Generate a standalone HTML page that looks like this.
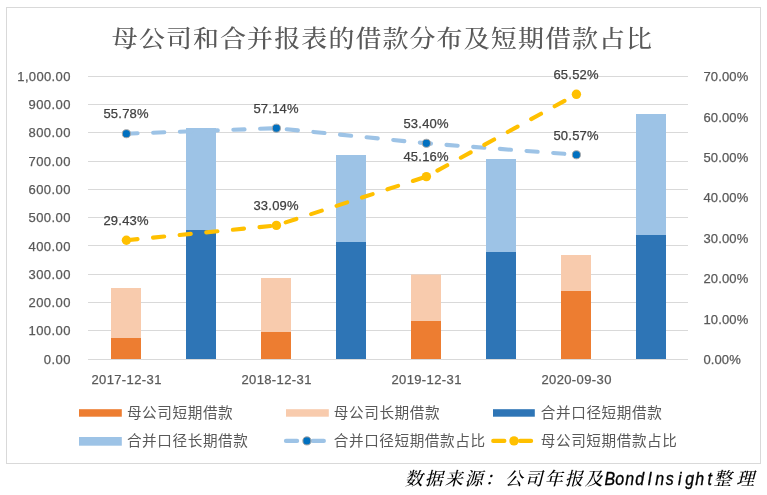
<!DOCTYPE html>
<html lang="zh-CN"><head><meta charset="utf-8"><title>母公司和合并报表的借款分布及短期借款占比</title>
<style>html,body{margin:0;padding:0;background:#fff;}body{width:767px;height:495px;overflow:hidden;}svg{display:block;}.n{font-family:"Liberation Sans",sans-serif;font-size:13px;stroke-width:0.25px;}.c{font-family:"Liberation Sans","Noto Sans CJK SC",sans-serif;font-size:14.6px;}.t{font-family:"Liberation Serif","Noto Serif CJK SC",serif;font-size:26px;font-weight:500;}.s{font-family:"Liberation Serif","Noto Serif CJK SC",serif;font-size:18px;font-style:italic;font-weight:500;}.l{font-family:"Liberation Sans",sans-serif;font-size:19px;font-style:italic;stroke:#000;stroke-width:0.35px;}</style></head><body>
<svg width="767" height="495" viewBox="0 0 767 495">
<rect x="0" y="0" width="767" height="495" fill="#fff"/>
<rect x="6.5" y="7.5" width="754" height="456" fill="#fff" stroke="#D9D9D9" stroke-width="1"/>
<text class="t" transform="scale(1 0.9)" x="111.8 138.9 165.9 193.0 220.1 247.1 274.2 301.3 328.4 355.4 382.5 409.6 436.6 463.7 490.8 517.9 544.9 572.0 599.1 626.1" y="52.00" fill="#595959">母公司和合并报表的借款分布及短期借款占比</text>
<rect x="88" y="76" width="600" height="1" fill="#D9D9D9"/>
<rect x="88" y="104" width="600" height="1" fill="#D9D9D9"/>
<rect x="88" y="132" width="600" height="1" fill="#D9D9D9"/>
<rect x="88" y="161" width="600" height="1" fill="#D9D9D9"/>
<rect x="88" y="189" width="600" height="1" fill="#D9D9D9"/>
<rect x="88" y="217" width="600" height="1" fill="#D9D9D9"/>
<rect x="88" y="245" width="600" height="1" fill="#D9D9D9"/>
<rect x="88" y="274" width="600" height="1" fill="#D9D9D9"/>
<rect x="88" y="302" width="600" height="1" fill="#D9D9D9"/>
<rect x="88" y="330" width="600" height="1" fill="#D9D9D9"/>
<rect x="88" y="359" width="600" height="1" fill="#D9D9D9"/>
<rect x="111" y="288" width="30" height="50" fill="#F8CBAD"/>
<rect x="111" y="338" width="30" height="21" fill="#ED7D31"/>
<rect x="186" y="128" width="30" height="102" fill="#9DC3E6"/>
<rect x="186" y="230" width="30" height="129" fill="#2E75B6"/>
<rect x="261" y="278" width="30" height="54" fill="#F8CBAD"/>
<rect x="261" y="332" width="30" height="27" fill="#ED7D31"/>
<rect x="336" y="155" width="30" height="87" fill="#9DC3E6"/>
<rect x="336" y="242" width="30" height="117" fill="#2E75B6"/>
<rect x="411" y="274.5" width="30" height="46.5" fill="#F8CBAD"/>
<rect x="411" y="321" width="30" height="38" fill="#ED7D31"/>
<rect x="486" y="159" width="30" height="93" fill="#9DC3E6"/>
<rect x="486" y="252" width="30" height="107" fill="#2E75B6"/>
<rect x="561" y="255" width="30" height="36" fill="#F8CBAD"/>
<rect x="561" y="291" width="30" height="68" fill="#ED7D31"/>
<rect x="636" y="114" width="30" height="121" fill="#9DC3E6"/>
<rect x="636" y="235" width="30" height="124" fill="#2E75B6"/>
<rect x="88" y="359" width="600" height="1" fill="#D9D9D9"/>
<path d="M126.40,133.69 L276.40,128.19 L426.40,143.31 L576.40,154.75" fill="none" stroke="#9DC3E6" stroke-width="4.1" stroke-linecap="round" stroke-linejoin="round" stroke-dasharray="11.2 15.55"/>
<circle cx="126.4" cy="133.69" r="4.05" fill="#0070C0" stroke="#A6A6A6" stroke-width="1"/>
<circle cx="276.4" cy="128.19" r="4.05" fill="#0070C0" stroke="#A6A6A6" stroke-width="1"/>
<circle cx="426.4" cy="143.31" r="4.05" fill="#0070C0" stroke="#A6A6A6" stroke-width="1"/>
<circle cx="576.4" cy="154.75" r="4.05" fill="#0070C0" stroke="#A6A6A6" stroke-width="1"/>
<path d="M126.40,240.22 L276.40,225.42 L426.40,176.62 L576.40,94.31" fill="none" stroke="#FFC000" stroke-width="4.1" stroke-linecap="round" stroke-linejoin="round" stroke-dasharray="11.2 15.55"/>
<circle cx="126.4" cy="240.22" r="4.7" fill="#FFC000"/>
<circle cx="276.4" cy="225.42" r="4.7" fill="#FFC000"/>
<circle cx="426.4" cy="176.62" r="4.7" fill="#FFC000"/>
<circle cx="576.4" cy="94.31" r="4.7" fill="#FFC000"/>
<text class="n" x="103.4" y="118.4" fill="#404040" stroke="#404040" textLength="45.2" lengthAdjust="spacing">55.78%</text>
<text class="n" x="253.4" y="112.9" fill="#404040" stroke="#404040" textLength="45.2" lengthAdjust="spacing">57.14%</text>
<text class="n" x="403.4" y="128.0" fill="#404040" stroke="#404040" textLength="45.2" lengthAdjust="spacing">53.40%</text>
<text class="n" x="553.4" y="139.5" fill="#404040" stroke="#404040" textLength="45.2" lengthAdjust="spacing">50.57%</text>
<text class="n" x="103.4" y="224.9" fill="#404040" stroke="#404040" textLength="45.2" lengthAdjust="spacing">29.43%</text>
<text class="n" x="253.4" y="210.1" fill="#404040" stroke="#404040" textLength="45.2" lengthAdjust="spacing">33.09%</text>
<text class="n" x="403.4" y="161.3" fill="#404040" stroke="#404040" textLength="45.2" lengthAdjust="spacing">45.16%</text>
<text class="n" x="553.4" y="79.0" fill="#404040" stroke="#404040" textLength="45.2" lengthAdjust="spacing">65.52%</text>
<text class="n" x="17.3" y="80.85" fill="#595959" stroke="#595959" textLength="53.1" lengthAdjust="spacing">1,000.00</text>
<text class="n" x="28.6" y="109.13" fill="#595959" stroke="#595959" textLength="41.8" lengthAdjust="spacing">900.00</text>
<text class="n" x="28.6" y="137.41" fill="#595959" stroke="#595959" textLength="41.8" lengthAdjust="spacing">800.00</text>
<text class="n" x="28.6" y="165.69" fill="#595959" stroke="#595959" textLength="41.8" lengthAdjust="spacing">700.00</text>
<text class="n" x="28.6" y="193.97" fill="#595959" stroke="#595959" textLength="41.8" lengthAdjust="spacing">600.00</text>
<text class="n" x="28.6" y="222.25" fill="#595959" stroke="#595959" textLength="41.8" lengthAdjust="spacing">500.00</text>
<text class="n" x="28.6" y="250.53" fill="#595959" stroke="#595959" textLength="41.8" lengthAdjust="spacing">400.00</text>
<text class="n" x="28.6" y="278.81" fill="#595959" stroke="#595959" textLength="41.8" lengthAdjust="spacing">300.00</text>
<text class="n" x="28.6" y="307.09" fill="#595959" stroke="#595959" textLength="41.8" lengthAdjust="spacing">200.00</text>
<text class="n" x="28.6" y="335.37" fill="#595959" stroke="#595959" textLength="41.8" lengthAdjust="spacing">100.00</text>
<text class="n" x="43.8" y="363.65" fill="#595959" stroke="#595959" textLength="26.6" lengthAdjust="spacing">0.00</text>
<text class="n" x="703.4" y="81.1" fill="#595959" stroke="#595959" textLength="44.9" lengthAdjust="spacing">70.00%</text>
<text class="n" x="703.4" y="121.5" fill="#595959" stroke="#595959" textLength="44.9" lengthAdjust="spacing">60.00%</text>
<text class="n" x="703.4" y="162.0" fill="#595959" stroke="#595959" textLength="44.9" lengthAdjust="spacing">50.00%</text>
<text class="n" x="703.4" y="202.4" fill="#595959" stroke="#595959" textLength="44.9" lengthAdjust="spacing">40.00%</text>
<text class="n" x="703.4" y="242.8" fill="#595959" stroke="#595959" textLength="44.9" lengthAdjust="spacing">30.00%</text>
<text class="n" x="703.4" y="283.2" fill="#595959" stroke="#595959" textLength="44.9" lengthAdjust="spacing">20.00%</text>
<text class="n" x="703.4" y="323.7" fill="#595959" stroke="#595959" textLength="44.9" lengthAdjust="spacing">10.00%</text>
<text class="n" x="703.4" y="364.1" fill="#595959" stroke="#595959" textLength="37.3" lengthAdjust="spacing">0.00%</text>
<text class="n" x="91.4" y="383.8" fill="#595959" stroke="#595959" textLength="70.0" lengthAdjust="spacing">2017-12-31</text>
<text class="n" x="241.4" y="383.8" fill="#595959" stroke="#595959" textLength="70.0" lengthAdjust="spacing">2018-12-31</text>
<text class="n" x="391.4" y="383.8" fill="#595959" stroke="#595959" textLength="70.0" lengthAdjust="spacing">2019-12-31</text>
<text class="n" x="541.4" y="383.8" fill="#595959" stroke="#595959" textLength="70.0" lengthAdjust="spacing">2020-09-30</text>
<rect x="79" y="409.2" width="42.8" height="7.5" fill="#ED7D31"/>
<text class="c" x="126.9" y="418.3" fill="#595959" textLength="105.8" lengthAdjust="spacing">母公司短期借款</text>
<rect x="286" y="409.2" width="42.8" height="7.5" fill="#F8CBAD"/>
<text class="c" x="333.8" y="418.3" fill="#595959" textLength="105.8" lengthAdjust="spacing">母公司长期借款</text>
<rect x="493" y="409.2" width="41.8" height="7.5" fill="#2E75B6"/>
<text class="c" x="540.8" y="418.3" fill="#595959" textLength="121.0" lengthAdjust="spacing">合并口径短期借款</text>
<rect x="79" y="437" width="42.8" height="8.7" fill="#9DC3E6"/>
<text class="c" x="126.9" y="446.2" fill="#595959" textLength="121.0" lengthAdjust="spacing">合并口径长期借款</text>
<path d="M285.95,440.9 H326" fill="none" stroke="#9DC3E6" stroke-width="4.1" stroke-linecap="round" stroke-dasharray="11.2 15.55"/>
<circle cx="306.9" cy="440.9" r="4.05" fill="#0070C0" stroke="#A6A6A6" stroke-width="1"/>
<text class="c" x="333.8" y="446.2" fill="#595959" textLength="151.2" lengthAdjust="spacing">合并口径短期借款占比</text>
<path d="M493.2,440.9 H533" fill="none" stroke="#FFC000" stroke-width="4.1" stroke-linecap="round" stroke-dasharray="11.2 15.55"/>
<circle cx="514" cy="440.9" r="4.7" fill="#FFC000"/>
<text class="c" x="540.8" y="446.2" fill="#595959" textLength="136.1" lengthAdjust="spacing">母公司短期借款占比</text>
<text class="s" x="404.8 424.8 444.8 464.8 484.8 504.8 524.8 544.8 564.8 584.8" y="485.2" fill="#000">数据来源：公司年报及</text>
<text class="l" transform="scale(0.84 1)" x="719.62 732.57 744.48 756.38 770.93 780.19 792.63 807.18 815.91 827.81 842.36" y="485.2" fill="#000">BondInsight</text>
<text class="s" x="713.6 736.2" y="485.2" fill="#000">整理</text>
</svg></body></html>
